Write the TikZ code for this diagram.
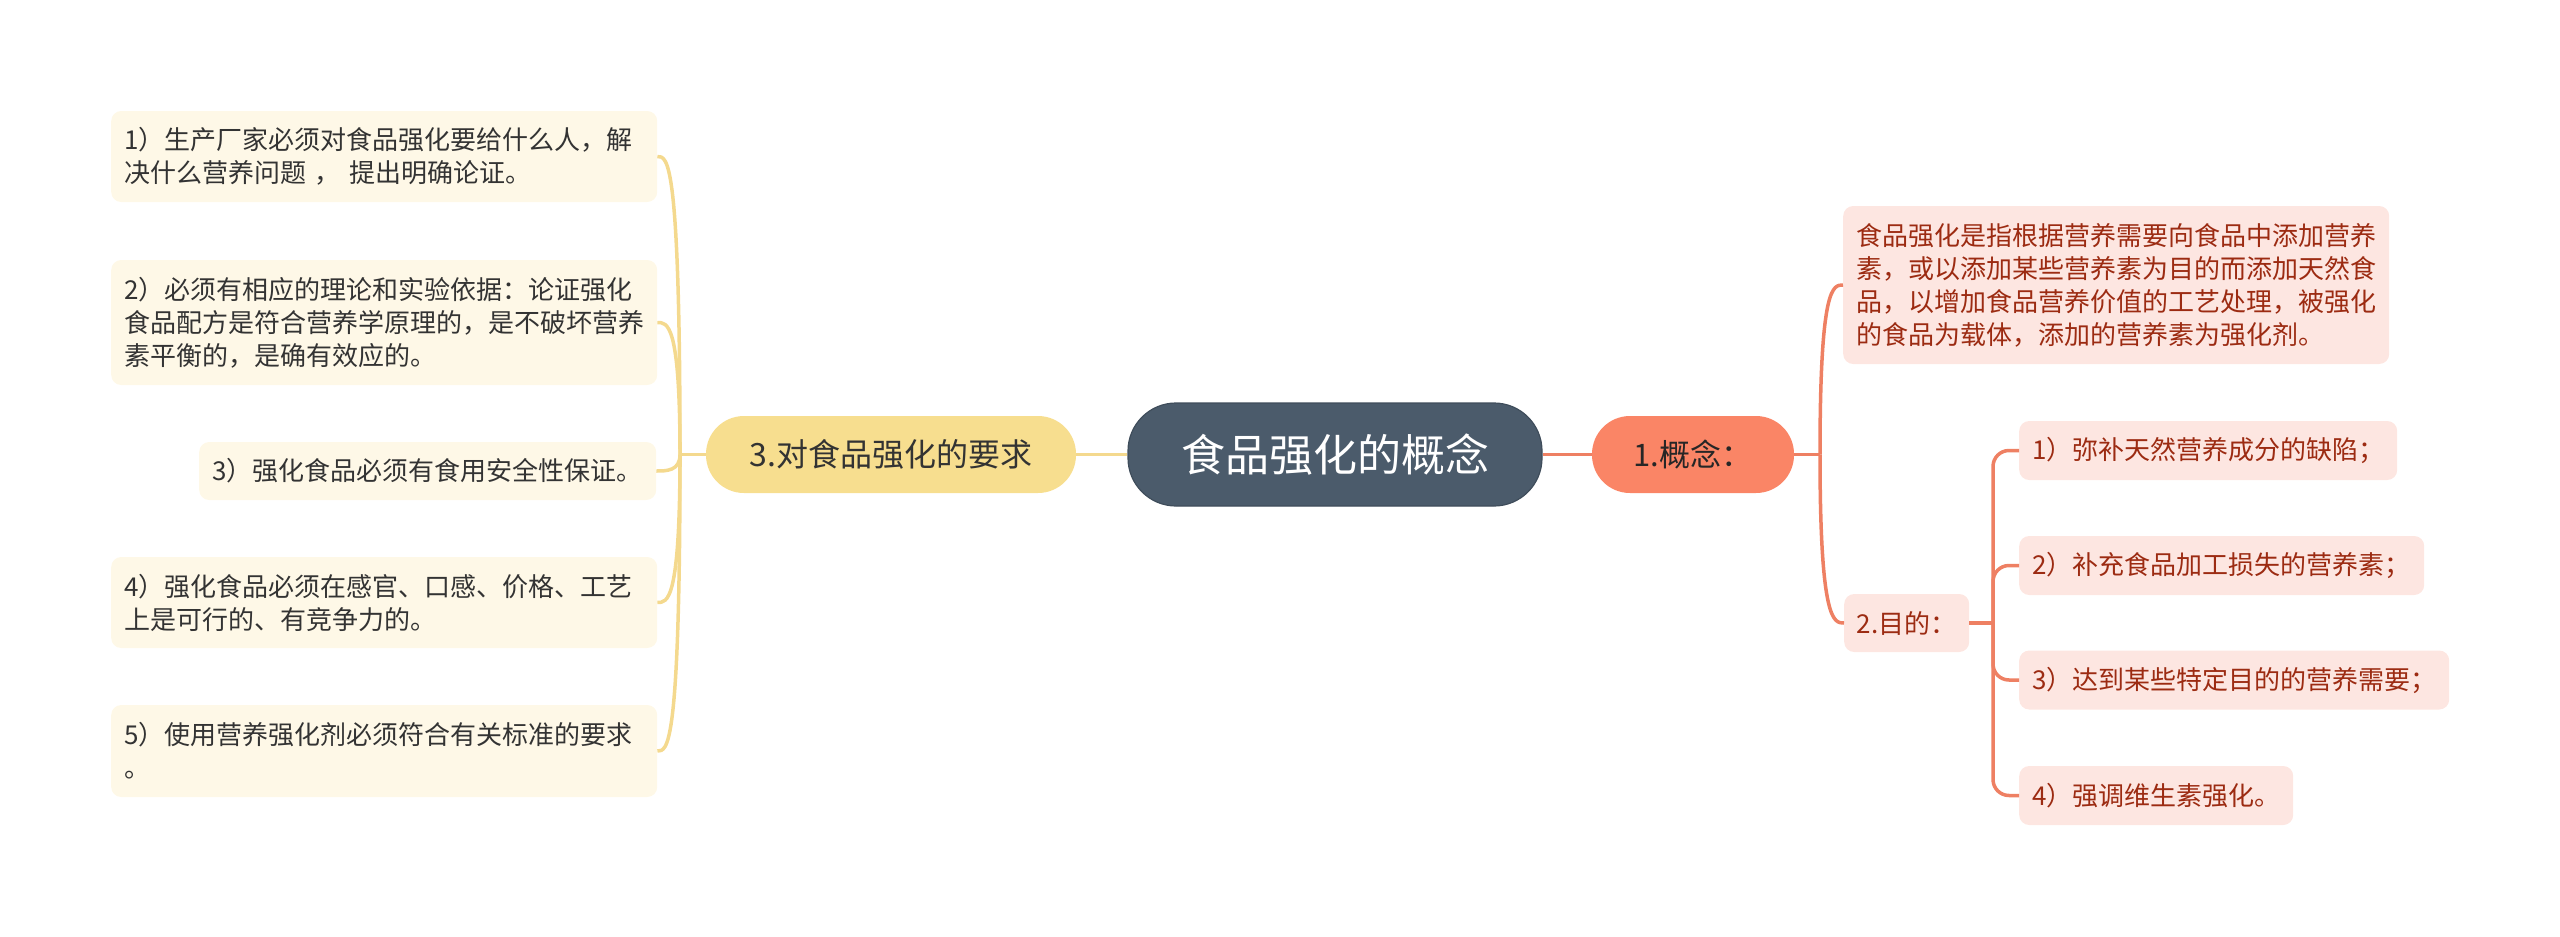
\documentclass[tikz,border=0pt]{standalone}
\usepackage{fontspec}
\setmainfont{Noto Sans CJK SC}
\definecolor{slate}{HTML}{4B5B6B}
\definecolor{slateedge}{HTML}{3F4D5B}
\definecolor{ynode}{HTML}{F7DE8F}
\definecolor{ycon}{HTML}{F4D98E}
\definecolor{cream}{HTML}{FEF8E7}
\definecolor{rnode}{HTML}{FA8566}
\definecolor{rcon}{HTML}{EE8063}
\definecolor{pink}{HTML}{FDE6E1}
\definecolor{rtext}{HTML}{9C2B12}
\definecolor{dtext}{HTML}{333333}
\begin{document}
\begin{tikzpicture}[x=1pt,y=-1pt,
  leftbox/.style={fill=cream, rounded corners=10pt, anchor=west, inner xsep=13pt, inner ysep=0pt,
    align=left, text=dtext, font=\fontsize{26}{33}\selectfont},
  rightbox/.style={fill=pink, rounded corners=10pt, anchor=west, inner xsep=13pt, inner ysep=0pt,
    align=left, text=rtext, font=\fontsize{26}{33}\selectfont},
  centre/.style={fill=slate, draw=slateedge, line width=1.2pt, rounded corners=48pt, text=white,
    minimum width=414pt, minimum height=103pt, font=\fontsize{44}{50}\selectfont},
  mainy/.style={fill=ynode, rounded corners=38pt, text=dtext, minimum width=370pt, minimum height=77pt,
    font=\fontsize{32}{38}\selectfont},
  mainr/.style={fill=rnode, rounded corners=38pt, text=black!85, minimum width=202pt, minimum height=77pt,
    font=\fontsize{31}{38}\selectfont},
  yline/.style={draw=ycon, line width=3.5pt},
  rline/.style={draw=rcon, line width=3.5pt}]
\useasboundingbox (0,0) rectangle (2560,937);

% main nodes
\node[centre] (root) at (1335,454.5) {食品强化的概念};
\node[mainy] (req) at (891,454.5) {3.对食品强化的要求};
\node[mainr] (con) at (1693,454.5) {1.概念：};

% left boxes
\node[leftbox, text width=520pt, minimum height=91pt] (l1) at (111,156.5)
  {1）生产厂家必须对食品强化要给什么人，解\\决什么营养问题 ， 提出明确论证。};
\node[leftbox, text width=520pt, minimum height=125pt] (l2) at (111,322.5)
  {2）必须有相应的理论和实验依据：论证强化\\食品配方是符合营养学原理的，是不破坏营养\\素平衡的，是确有效应的。};
\node[leftbox, text width=431pt, minimum height=58pt] (l3) at (199,471)
  {3）强化食品必须有食用安全性保证。};
\node[leftbox, text width=520pt, minimum height=91pt] (l4) at (111,602.5)
  {4）强化食品必须在感官、口感、价格、工艺\\上是可行的、有竞争力的。};
\node[leftbox, text width=520pt, minimum height=92pt] (l5) at (111,751)
  {5）使用营养强化剂必须符合有关标准的要求\\。};

% right boxes
\node[rightbox, text width=520pt, minimum height=158pt] (def) at (1843,285)
  {食品强化是指根据营养需要向食品中添加营养\\素，或以添加某些营养素为目的而添加天然食\\品，以增加食品营养价值的工艺处理，被强化\\的食品为载体，添加的营养素为强化剂。};
\node[rightbox, align=center, inner xsep=0pt, minimum width=125pt, minimum height=58pt] (goal) at (1844,623)
  {2.目的：};
\node[rightbox, text width=352pt, minimum height=59pt] (i1) at (2019,450.5) {1）弥补天然营养成分的缺陷；};
\node[rightbox, text width=379pt, minimum height=59pt] (i2) at (2019,565.5) {2）补充食品加工损失的营养素；};
\node[rightbox, text width=404pt, minimum height=59pt] (i3) at (2019,680) {3）达到某些特定目的的营养需要；};
\node[rightbox, text width=248pt, minimum height=59pt] (i4) at (2019,795.5) {4）强调维生素强化。};

% connector anchor points
\coordinate (yt) at (680,454.5);
\coordinate (rt) at (1820,454.5);
\coordinate (st) at (1993,623);

% yellow connectors
\draw[yline] (root.west) -- (req.east);
\draw[yline] (req.west) -- (yt);
\foreach \n in {l1,l2,l3,l4,l5}{
  \draw[yline] (yt) .. controls (yt|-\n.east) and ([xshift=10pt]\n.east) .. (\n.east);
}
% red connectors
\draw[rline] (root.east) -- (con.west);
\draw[rline] (con.east) -- (rt);
\draw[rline] (rt) .. controls (rt|-def.west) and ([xshift=-10pt]def.west) .. (def.west);
\draw[rline] (rt) .. controls (rt|-goal.west) and ([xshift=-10pt]goal.west) .. (goal.west);
\draw[rline] (goal.east) -- (st);
\foreach \n in {i1,i2,i3,i4}{
  \draw[rline, rounded corners=16pt] (st) |- (\n.west);
}
\end{tikzpicture}
\end{document}
